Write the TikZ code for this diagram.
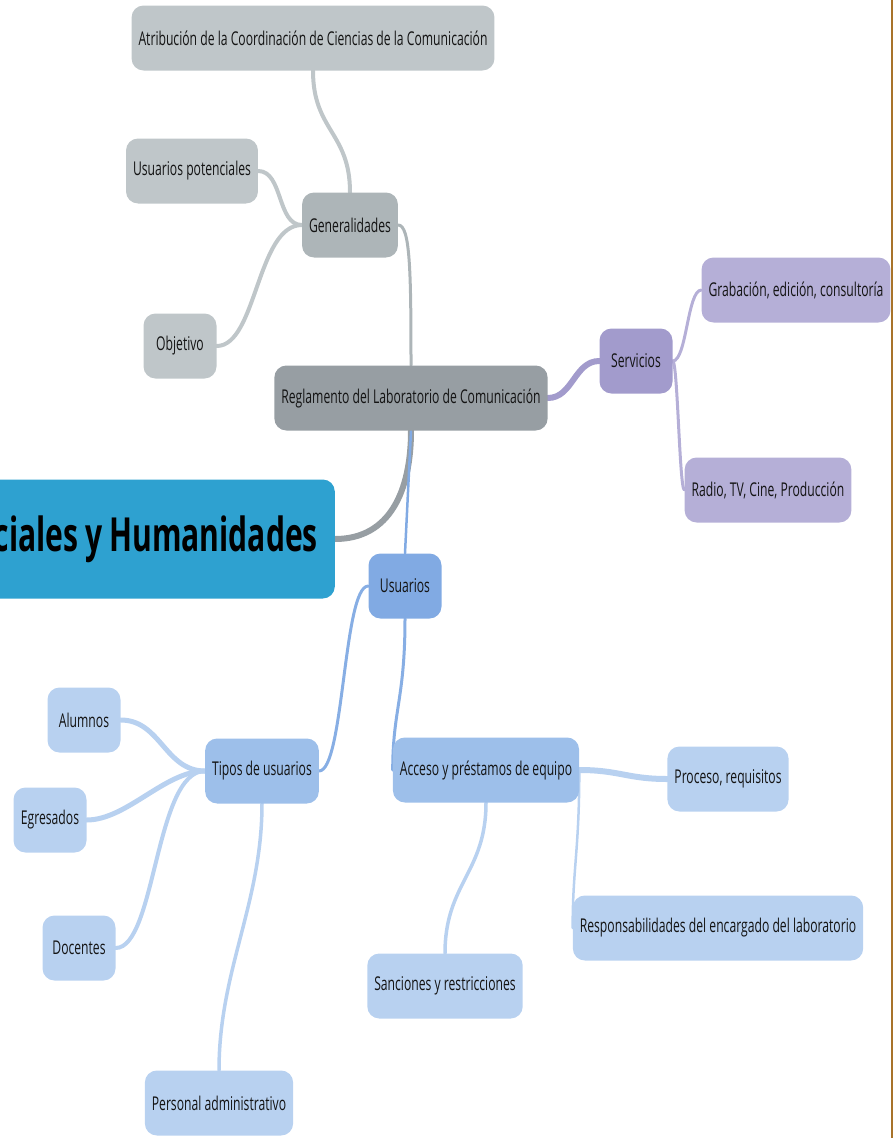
\documentclass[tikz,border=0pt]{standalone}
\usepackage{fontspec}
\setmainfont{Open Sans}[FakeStretch=0.64]
\usepackage{xcolor}
\usepackage{tikz}
\usetikzlibrary{backgrounds}
\definecolor{rootblue}{HTML}{2EA1D0}
\definecolor{grayone}{HTML}{979EA3}
\definecolor{graytwo}{HTML}{ADB5B8}
\definecolor{graythree}{HTML}{BFC6C9}
\definecolor{lilacone}{HTML}{A29BCC}
\definecolor{lilactwo}{HTML}{B5AFD7}
\definecolor{skyone}{HTML}{81AAE3}
\definecolor{skytwo}{HTML}{9DBFEA}
\definecolor{skythree}{HTML}{B8D1F0}
\definecolor{frameedge}{HTML}{A8732A}

\begin{document}
\begin{tikzpicture}[
  x=1pt, y=-1pt,
  topic/.style={rounded corners=12pt, minimum height=65pt, minimum width=73pt,
    inner xsep=7pt, inner ysep=0pt, text=black!92,
    font=\fontsize{19}{22}\selectfont},
  link/.style={line cap=round},
]
\useasboundingbox (0,0) rectangle (894,1138);

%% Central topic (cut at the left edge)
\node[topic, fill=rootblue, anchor=east, text width=520pt, align=right,
  inner xsep=17pt, minimum height=119pt,
  font=\fontsize{47}{50}\selectfont\bfseries, text=black,
  execute at begin node={\spaceskip=7pt\relax}]
  (root) at (335,539) {ciales y Humanidades};

%% Main branch
\node[topic, fill=grayone] (regl) at (411,398) {Reglamento del Laboratorio de Comunicación};

%% Generalidades (gray)
\node[topic, fill=graytwo] (gen) at (350,225) {Generalidades};
\foreach \nm/\x/\y/\lab in {
  atr/313/38/{Atribución de la Coordinación de Ciencias de la Comunicación},
  upot/192/171/{Usuarios potenciales},
  obj/180/346/{Objetivo}%
}{
  \node[topic, fill=graythree] (\nm) at (\x,\y) {\lab};
}

%% Servicios (lilac)
\node[topic, fill=lilacone] (serv) at (636,361) {Servicios};
\foreach \nm/\x/\y/\lab in {
  grab/796/290/{Grabación, edición, consultoría},
  radio/768/490/{Radio, TV, Cine, Producción}%
}{
  \node[topic, fill=lilactwo] (\nm) at (\x,\y) {\lab};
}

%% Usuarios (blue)
\node[topic, fill=skyone] (usu) at (405,586) {Usuarios};
\node[topic, fill=skytwo] (tipos) at (262,771) {Tipos de usuarios};
\node[topic, fill=skytwo] (acc) at (486,770) {Acceso y préstamos de equipo};
\foreach \nm/\x/\y/\lab in {
  alum/84/720/{Alumnos},
  egr/50/820/{Egresados},
  doc/79/948/{Docentes},
  pers/219/1103/{Personal administrativo},
  sanc/445/986/{Sanciones y restricciones},
  proc/728/779/{Proceso, requisitos},
  resp/718/928/{Responsabilidades del encargado del laboratorio}%
}{
  \node[topic, fill=skythree] (\nm) at (\x,\y) {\lab};
}

%% Connectors, behind the boxes
\begin{scope}[on background layer]
  \draw[link, grayone, line width=6] (root.east) .. controls +(55,0) and +(0,60) .. (regl.south);
  \draw[link, graytwo, line width=3] (regl.north) .. controls +(0,-95) and +(12,0) .. (gen.east);
  \draw[link, graythree, line width=4] (gen.north) .. controls +(0,-60) and +(0,60) .. (atr.south);
  \draw[link, graythree, line width=4] (gen.west) .. controls +(-25,0) and +(25,0) .. (upot.east);
  \draw[link, graythree, line width=4] (gen.west) .. controls +(-45,0) and +(40,0) .. (obj.east);

  \draw[link, lilacone, line width=6] (regl.east) .. controls +(25,0) and +(-25,0) .. (serv.west);
  \draw[link, lilactwo, line width=3] (serv.east) .. controls +(14,0) and +(-14,0) .. (grab.west);
  \draw[link, lilactwo, line width=3] (serv.east) .. controls +(5,0) and +(-5,0) .. (radio.west);

  \draw[link, skyone, line width=2.5] (regl.south) -- (usu.north);
  \draw[link, skyone!80!skytwo, line width=3] (usu.west) .. controls +(-25,0) and +(25,0) .. (tipos.east);
  \draw[link, skyone!80!skytwo, line width=3] (usu.south) .. controls +(0,80) and +(0,-60) .. (acc.west);

  \draw[link, skythree, line width=5] (tipos.west) .. controls +(-40,0) and +(40,0) .. (alum.east);
  \draw[link, skythree, line width=5] (tipos.west) .. controls +(-40,0) and +(40,0) .. (egr.east);
  \draw[link, skythree, line width=4] (tipos.west) .. controls +(-50,0) and +(40,0) .. (doc.east);
  \draw[link, skythree, line width=3.5] (tipos.south) .. controls +(0,100) and +(0,-100) .. (pers.north);

  \draw[link, skythree, line width=6] (acc.east) .. controls +(40,0) and +(-40,0) .. (proc.west);
  \draw[link, skythree, line width=3.5] (acc.south) .. controls +(0,70) and +(0,-70) .. (sanc.north);
  \draw[link, skythree, line width=2.5] (acc.east) .. controls +(0,80) and +(0,-60) .. (resp.west);
\end{scope}

%% Page edge
\draw[frameedge, line width=2] (892,0) -- (892,1138);

\end{tikzpicture}
\end{document}
